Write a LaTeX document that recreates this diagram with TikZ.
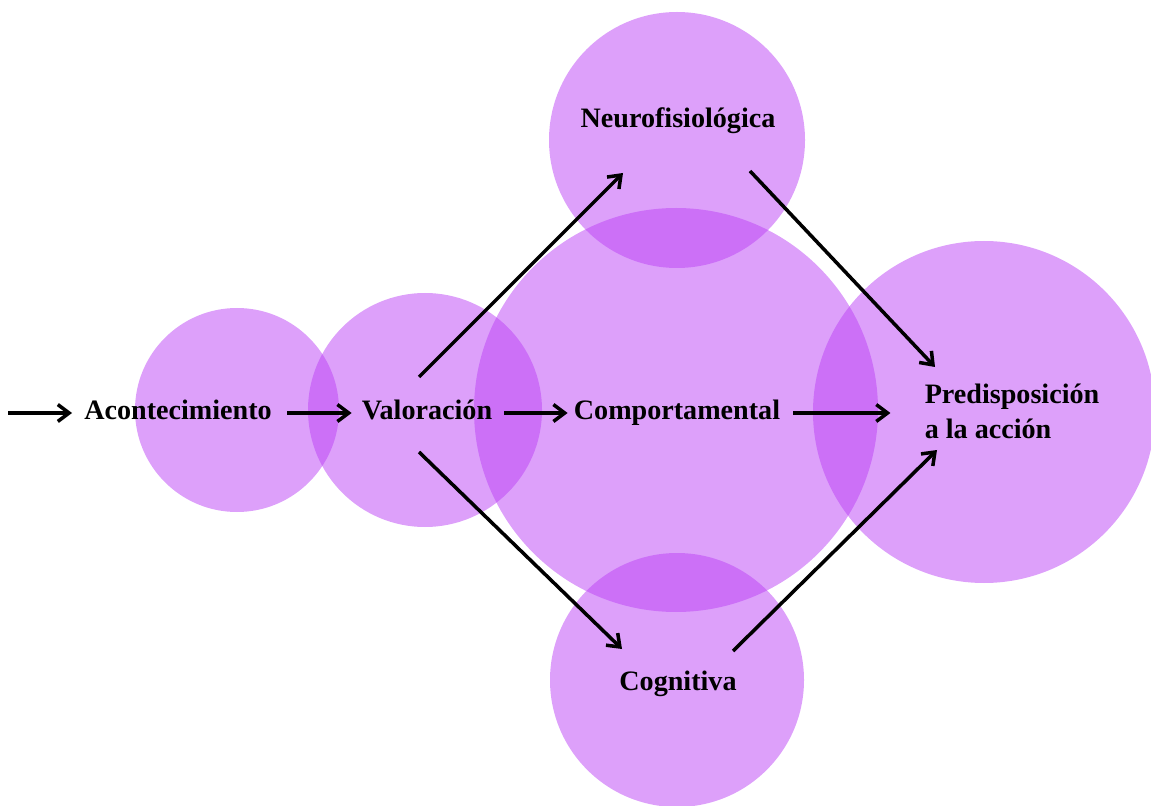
\documentclass[tikz,border=0pt]{standalone}
\usepackage{fontspec}
\setmainfont{Liberation Serif}
\usetikzlibrary{arrows.meta}
\definecolor{lila}{RGB}{187,65,245}
\begin{document}
\begin{tikzpicture}[x=0.025cm,y=-0.025cm,
		circ/.style={fill=lila,fill opacity=0.5},
		lbl/.style={font=\bfseries\fontsize{20}{25}\selectfont,inner sep=0pt,text height=13pt,text depth=4pt},
		arr/.style={-{Straight Barb[length=8pt,width=12pt]},line width=2.5pt}]
	\useasboundingbox (0,0) rectangle (1151,806);
	% Circles
	\fill[circ] (237,410) circle (102);
	\fill[circ] (425,410) circle (117);
	\fill[circ] (676,410) circle (202);
	\fill[circ] (677,140) circle (128);
	\fill[circ] (677,680) circle (127);
	\fill[circ] (984,412) circle (171);
	% Labels
	\node[lbl] (acon) at (178,413) {Acontecimiento};
	\node[lbl] (val) at (427,413) {Valoración};
	\node[lbl] (comp) at (677,413) {Comportamental};
	\node[lbl] (neuro) at (678,121) {Neurofisiológica};
	\node[lbl] (cog) at (678,684) {Cognitiva};
	\node[lbl,align=left,text height=,text depth=] (pred) at (1012,411) {Predisposición\\a la acción};
	\coordinate (start) at (8,413);
	% Arrows
	\draw[arr] (start) -- ([shift={(-12,0)}]acon.west);
	\draw[arr] ([shift={(15,0)}]acon.east) -- ([shift={(-10,0)}]val.west);
	\draw[arr] ([shift={(12,0)}]val.east) -- ([shift={(-6,0)}]comp.west);
	\draw[arr] ([shift={(13,0)}]comp.east) -- ([shift={(-34,2)}]pred.west);
	\draw[arr] ([shift={(-8,-36)}]val.center) -- ([shift={(-55,52)}]neuro.center);  % upper branch
	\draw[arr] ([shift={(72,50)}]neuro.center) -- ([shift={(-77,-44)}]pred.center);
	\draw[arr] ([shift={(-8,39)}]val.center) -- ([shift={(-56,-35)}]cog.center);    % lower branch
	\draw[arr] ([shift={(55,-33)}]cog.center) -- ([shift={(-75,39)}]pred.center);
\end{tikzpicture}
\end{document}
